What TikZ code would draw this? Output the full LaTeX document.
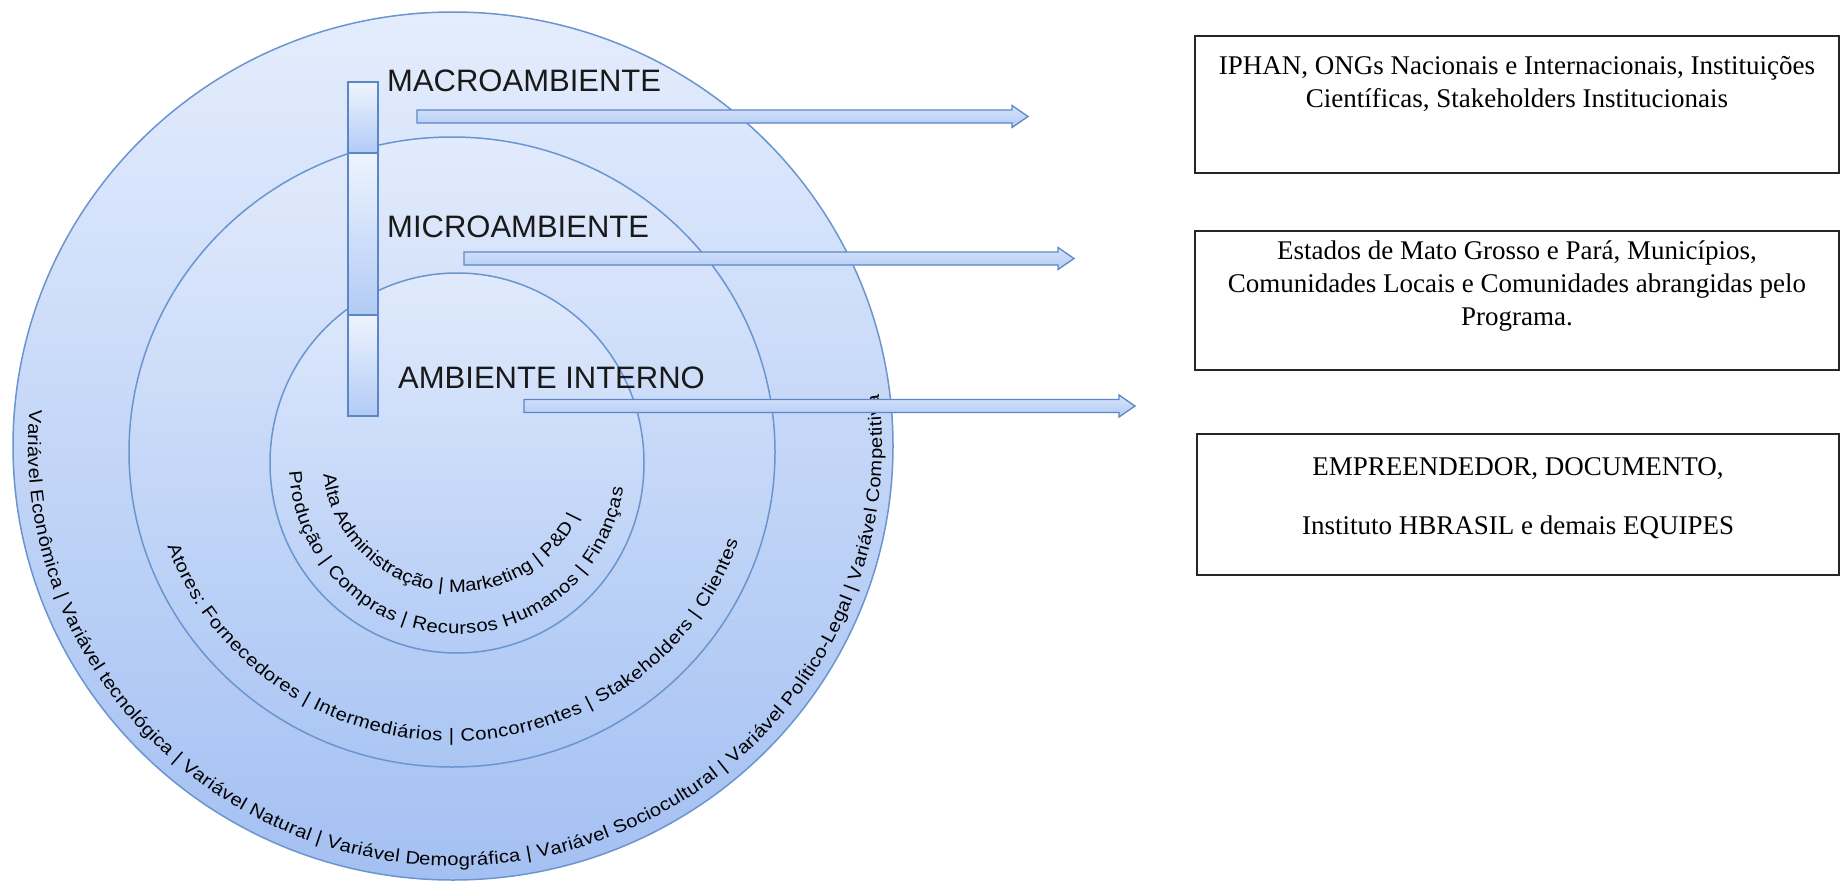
\documentclass[tikz,border=0pt]{standalone}
\usepackage{fontspec}
\setmainfont{Liberation Serif}
\newfontfamily\labelfont{Liberation Sans}
\newfontfamily\ringfont[FakeStretch=1.12]{Liberation Sans}
\usetikzlibrary{positioning,calc,decorations.text}

\definecolor{ringline}{HTML}{6A95CF}
\definecolor{outertop}{HTML}{E4EDFD}
\definecolor{outerbot}{HTML}{A4C0F2}
\definecolor{midtop}{HTML}{E2EBFC}
\definecolor{midbot}{HTML}{ABC6F4}
\definecolor{innertop}{HTML}{E0EAFC}
\definecolor{innerbot}{HTML}{B4CCF6}
\definecolor{barline}{HTML}{5B87C6}
\definecolor{bartop}{HTML}{EEF4FE}
\definecolor{barbot}{HTML}{B2CBF5}

\newcommand{\ringfnt}{\ringfont\fontsize{18}{21}\selectfont}

\tikzset{
  ring/.style={draw=ringline, line width=1.5pt},
  ringtext/.style={decorate, decoration={text along path, text align=fit to path,
      text format delimiters={[}{]}, text color=black}},
  barseg/.style={draw=barline, line width=1.5pt, top color=bartop, bottom color=barbot},
  arrowbody/.style={draw=barline, line width=1.3pt, top color=bartop!60!barbot,
      middle color=bartop, bottom color=barbot},
  titlelabel/.style={font=\labelfont\fontsize{31}{37}\selectfont, text=black!90, inner sep=0pt},
  infobox/.style={draw=black!85, line width=2pt, fill=white, inner sep=0pt, outer sep=0pt,
      anchor=north west},
  boxtext/.style={font=\fontsize{27}{33}\selectfont, align=center, inner sep=0pt}
}

% block arrow between two named points
\newcommand{\blockarrow}[2]{%
  \shadedraw[arrowbody] ($(#1)+(0,6.5)$) -- ($(#2)+(-16,6.5)$) -- ($(#2)+(-16,11)$)
    -- (#2) -- ($(#2)+(-16,-11)$) -- ($(#2)+(-16,-6.5)$) -- ($(#1)+(0,-6.5)$) -- cycle;}

\begin{document}
\begin{tikzpicture}[x=1pt,y=1pt]
  \useasboundingbox (0,0) rectangle (1841,-891);

  % the three environments
  \coordinate (outerc) at (453,-446);
  \coordinate (midc) at (452,-452);
  \coordinate (innerc) at (457,-463);
  \shadedraw[ring, top color=outertop, bottom color=outerbot] (outerc) ellipse [x radius=440pt, y radius=434pt];
  \shadedraw[ring, top color=midtop, bottom color=midbot] (midc) ellipse [x radius=323pt, y radius=315pt];
  \shadedraw[ring, top color=innertop, bottom color=innerbot] (innerc) ellipse [x radius=187pt, y radius=190pt];

  % texts along the rings
  \path[ringtext, decoration={text={[\ringfnt]Variável Econômica | Variável tecnológica | Variável Natural | Variável Demográfica | Variável Sociocultural | Variável Político-Legal | Variável Competitiva}}]
    ($(455,-446)+(175:427pt and 420pt)$) arc[start angle=175, end angle=367, x radius=427pt, y radius=420pt];
  \path[ringtext, decoration={text={[\ringfnt]Atores: Fornecedores | Intermediários | Concorrentes | Stakeholders | Clientes}}]
    ($(midc)+(199:301pt and 289pt)$) arc[start angle=199, end angle=342, x radius=301pt, y radius=289pt];
  \path[ringtext, decoration={text={[\ringfnt]Produção | Compras | Recursos Humanos | Finanças}}]
    ($(innerc)+(183:168pt and 171pt)$) arc[start angle=183, end angle=351.6, x radius=168pt, y radius=171pt];
  \path[ringtext, decoration={text={[\ringfnt]Alta Administração | Marketing | P{\&}D |}}]
    ($(innerc)+(185:134pt and 129pt)$) arc[start angle=185, end angle=335.5, x radius=134pt, y radius=129pt];

  % bar
  \foreach \ya/\yb in {82/153,153/315,315/416}
    \shadedraw[barseg] (348,-\ya) rectangle (378,-\yb);

  % titles
  \node[titlelabel, anchor=base west] (macrolabel) at (387,-92) {MACROAMBIENTE};
  \node[titlelabel, anchor=base west] (microlabel) at (387,-237) {MICROAMBIENTE};
  \node[titlelabel, anchor=base west] (internolabel) at (398,-388) {AMBIENTE INTERNO};

  % boxes
  \node[infobox, minimum width=644, minimum height=137] (macrobox) at (1195,-36) {};
  \node[infobox, minimum width=644, minimum height=139] (microbox) at (1195,-231) {};
  \node[infobox, minimum width=642, minimum height=141] (internobox) at (1197,-434) {};

  \node[boxtext, anchor=north] at ($(macrobox.north)+(0,-20)$)
    {IPHAN, ONGs Nacionais e Internacionais, Instituições\\ Científicas, Stakeholders Institucionais};
  \node[boxtext, anchor=north] at ($(microbox.north)+(0,-10)$)
    {Estados de Mato Grosso e Pará, Municípios,\\ Comunidades Locais e Comunidades abrangidas pelo\\ Programa.};
  \node[boxtext, anchor=north] at ($(internobox.north)+(0,-23)$)
    {EMPREENDEDOR, DOCUMENTO,\\[26pt] Instituto HBRASIL e demais EQUIPES};

  % arrows
  \coordinate (macrofrom) at (417,-116.5);
  \coordinate (macroto) at (1028,-116.5);
  \coordinate (microfrom) at (464,-258.5);
  \coordinate (microto) at (1074,-258.5);
  \coordinate (internofrom) at (524,-406);
  \coordinate (internoto) at (1135,-406);
  \blockarrow{macrofrom}{macroto}
  \blockarrow{microfrom}{microto}
  \blockarrow{internofrom}{internoto}
\end{tikzpicture}
\end{document}
